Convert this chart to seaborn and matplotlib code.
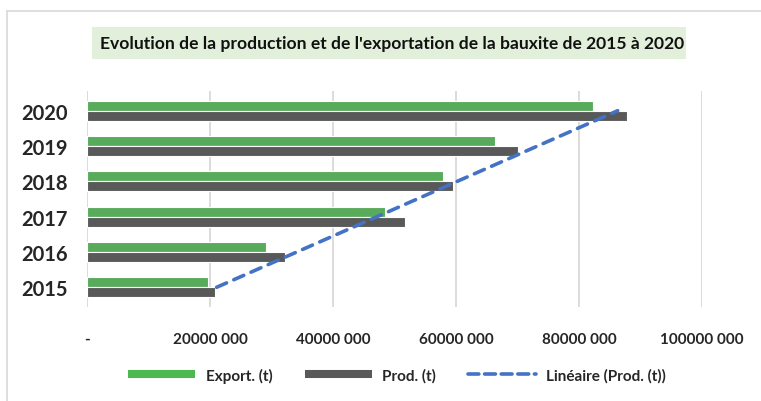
import numpy as np
import pandas as pd
import matplotlib
matplotlib.use("Agg")
import matplotlib.pyplot as plt
from matplotlib.lines import Line2D
from matplotlib.patches import Rectangle
import seaborn as sns

# data (tonnes)
years = ['2015', '2016', '2017', '2018', '2019', '2020']
export_t = [19.6e6, 29.1e6, 48.4e6, 57.9e6, 66.3e6, 82.3e6]
prod_t = [20.8e6, 32.2e6, 51.7e6, 59.5e6, 70.1e6, 87.8e6]
xticks = [0, 20e6, 40e6, 60e6, 80e6, 100e6]
xtick_labels = ['-', '20000 000', '40000 000', '60000 000', '80000 000', '100000 000']
series = ['Export. (t)', 'Prod. (t)']
title = "Evolution de la production et de l'exportation de la bauxite de 2015 à 2020"

green = '#4CB850'
grey = '#595959'
blue = '#4472C4'
gridc = '#D9D9D9'

sns.set_style("white")
plt.rcParams['font.family'] = ['Lato', 'DejaVu Sans']

df = pd.DataFrame({
    'year': years * 2,
    'value': export_t + prod_t,
    'serie': [series[0]] * 6 + [series[1]] * 6,
})
order = years[::-1]

fig = plt.figure(figsize=(7.61, 4.02), dpi=100)
ax = fig.add_axes([87 / 761, 1 - 308 / 402, 615 / 761, 216 / 402])

ax.set_axisbelow(True)
ax.grid(axis='x', color=gridc, linewidth=1.3)
sns.barplot(data=df, y='year', x='value', hue='serie', order=order, hue_order=series,
            palette=[green, grey], width=0.56, orient='h', edgecolor='white',
            linewidth=0.8, legend=False, ax=ax)

# linear trend of production
idx = np.arange(1, len(years) + 1)
coef = np.polyfit(idx, prod_t, 1)
trend = np.polyval(coef, idx)
pos = [order.index(y) for y in years]
ax.plot(trend, pos, color=blue, linewidth=2.6, dashes=(3, 2.2), dash_capstyle='round')

ax.set_xlim(0, 100e6)
ax.set_xticks(xticks)
ax.set_xticklabels(xtick_labels, fontsize=11, fontweight='bold')
ax.tick_params(axis='x', length=0, pad=18)
ax.tick_params(axis='y', length=0, pad=14, labelsize=14.5)
for t in ax.get_yticklabels():
    t.set_fontweight('bold')
ax.set_xlabel('')
ax.set_ylabel('')
sns.despine(ax=ax, left=True, bottom=True)

# title with green box
fig.add_artist(Rectangle((92 / 761, 1 - 60 / 402), 594 / 761, 32 / 402,
                         transform=fig.transFigure, facecolor='#E2EFDA', edgecolor='none'))
fig.text(392 / 761, 1 - 44.5 / 402, title, ha='center', va='center',
         fontsize=12.6, fontweight='bold', color='#111111')

# chart border (left and top visible)
fig.add_artist(Line2D([7 / 761, 7 / 761], [0, 1 - 12 / 402], transform=fig.transFigure,
                      color=gridc, linewidth=1.2))
fig.add_artist(Line2D([7 / 761, 1], [1 - 12 / 402, 1 - 12 / 402], transform=fig.transFigure,
                      color=gridc, linewidth=1.2))

handles = [
    Line2D([], [], color=green, linewidth=5.8, solid_capstyle='butt'),
    Line2D([], [], color=grey, linewidth=5.8, solid_capstyle='butt'),
    Line2D([], [], color=blue, linewidth=2.6, dashes=(3, 1.6), dash_capstyle='round'),
]
fig.legend(handles, series + ['Linéaire (Prod. (t))'], loc='center', ncol=3,
           bbox_to_anchor=(397 / 761, 1 - 376 / 402), frameon=False,
           prop={'weight': 'bold', 'size': 11}, handlelength=4.4,
           handletextpad=0.7, columnspacing=2.1)

fig.savefig('out.png', dpi=100)
